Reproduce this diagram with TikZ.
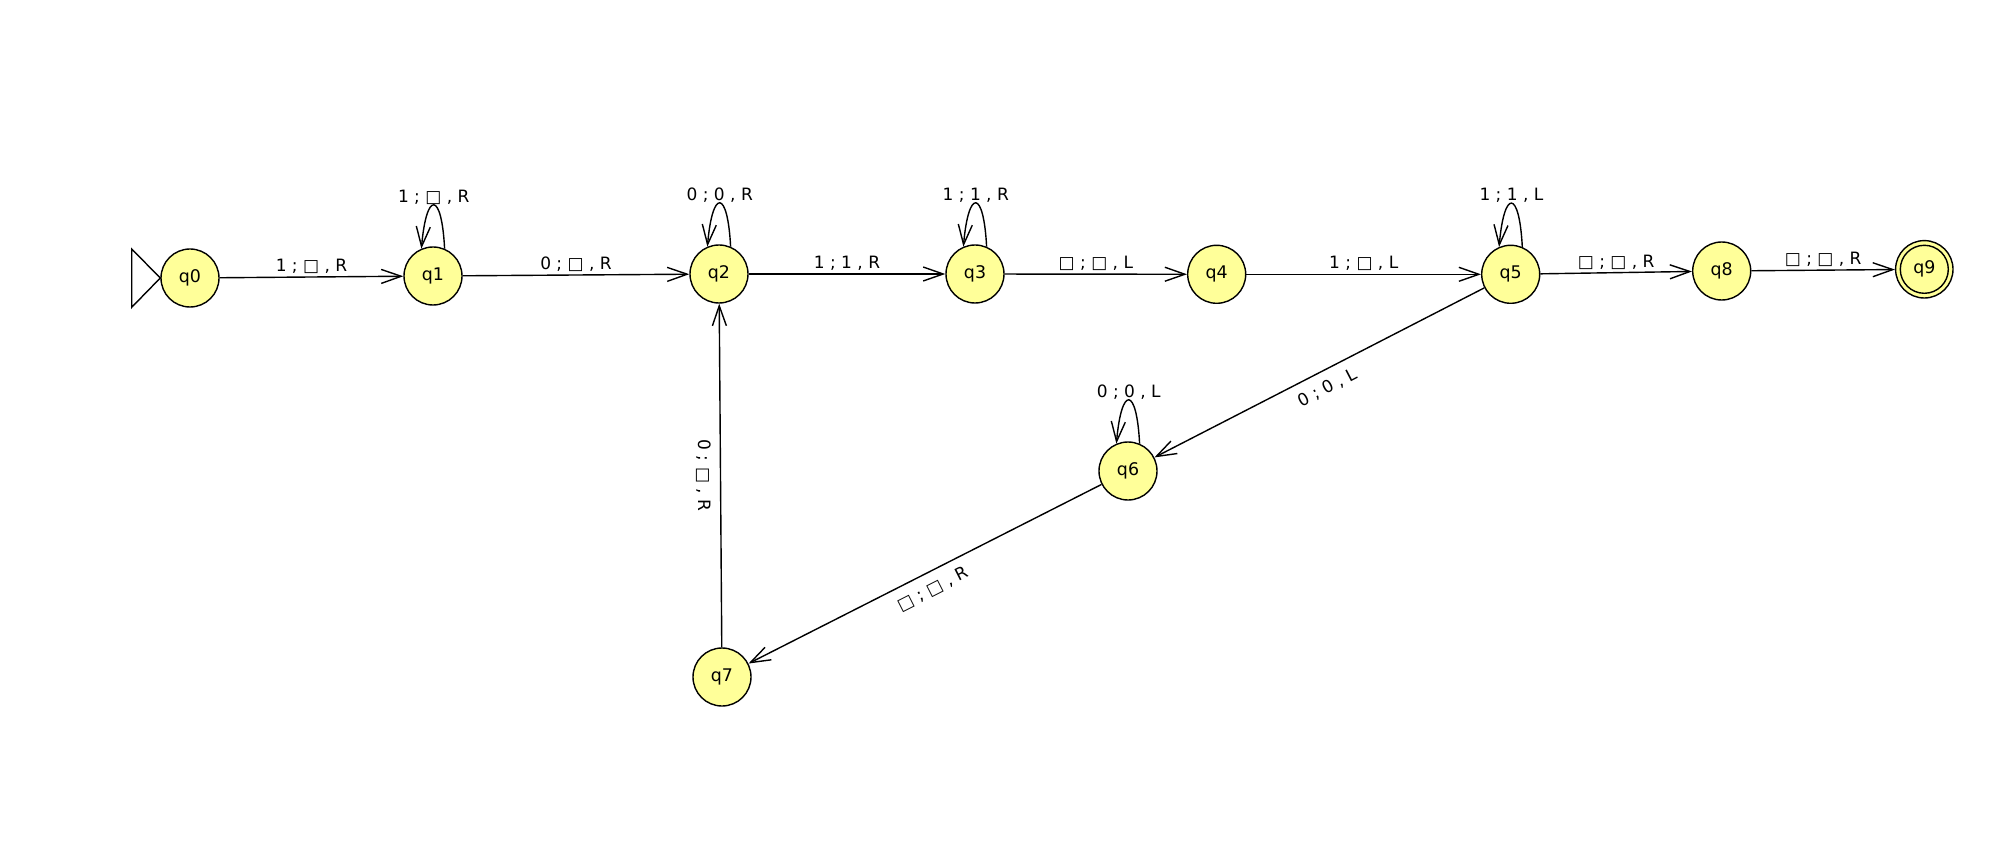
\documentclass[tikz,border=0pt]{standalone}
\usepackage{fontspec}
\setmainfont{DejaVu Sans}
\usetikzlibrary{arrows.meta}
\definecolor{stfill}{RGB}{255,255,153}
\begin{document}
\begin{tikzpicture}[x=0.5pt,y=-0.5pt,
  state/.style={circle,draw=black,line width=0.7pt,fill=stfill,minimum size=29pt,inner sep=0pt,font=\fontsize{8.7}{10}\selectfont},
  edge/.style={draw=black,line width=0.7pt,-{Straight Barb[length=10pt,width=7pt,line width=0.7pt]}},
  lab/.style={font=\fontsize{8.5}{10}\selectfont,inner sep=1.4pt,text=black},
  llab/.style={lab,anchor=south,inner sep=0pt},
  slab/.style={lab,anchor=north,inner sep=4.5pt},
]
\useasboundingbox (0,0) rectangle (1993,861);

\node[state] (q0) at (190,278) {q0};
\node[state] (q1) at (433,276) {q1};
\node[state] (q2) at (719,274) {q2};
\node[state] (q3) at (975,274) {q3};
\node[state] (q4) at (1216.7,274.3) {q4};
\node[state] (q5) at (1510.7,274.3) {q5};
\node[state] (q8) at (1721.7,271) {q8};
\node[state,minimum size=28.7pt] (q9) at (1924.3,269.3) {q9};
\draw[line width=0.7pt] (q9.center) circle[radius=24];
\node[state] (q6) at (1128,471) {q6};
\node[state] (q7) at (722,677) {q7};

% start marker
\draw[line width=0.7pt,fill=white] (131.7,249) -- (131.7,307.3) -- (q0.west) -- cycle;

% straight edges
\draw[edge] (q0) -- node[lab,above]{1 ; □ , R} (q1);
\draw[edge] (q1) -- node[lab,above]{0 ; □ , R} (q2);
\draw[edge] (q2) -- node[lab,above]{1 ; 1 , R} (q3);
\draw[edge] (q3) -- node[lab,above]{□ ; □ , L} (q4);
\draw[edge] (q4) -- node[lab,above]{1 ; □ , L} (q5);
\draw[edge] (q5) -- node[lab,above]{□ ; □ , R} (q8);
\draw[edge] (q8) -- node[lab,above]{□ ; □ , R} (q9);
\draw[edge] (q5) -- node[slab,rotate=27.4]{0 ; 0 , L} (q6);
\draw[edge] (q6) -- node[slab,rotate=26.9]{□ ; □ , R} (q7);
\draw[edge] (q7) -- node[slab,rotate=-90]{0 ; □ , R} (q2);

% loops
\draw[edge] (q1.67) .. controls +(-3,-58) and +(5,-58) .. node[llab]{1 ; □ , R} (q1.113);
\draw[edge] (q2.67) .. controls +(-3,-58) and +(5,-58) .. node[llab]{0 ; 0 , R} (q2.113);
\draw[edge] (q3.67) .. controls +(-3,-58) and +(5,-58) .. node[llab]{1 ; 1 , R} (q3.113);
\draw[edge] (q5.67) .. controls +(-3,-58) and +(5,-58) .. node[llab]{1 ; 1 , L} (q5.113);
\draw[edge] (q6.67) .. controls +(-3,-58) and +(5,-58) .. node[llab]{0 ; 0 , L} (q6.113);
\end{tikzpicture}
\end{document}
